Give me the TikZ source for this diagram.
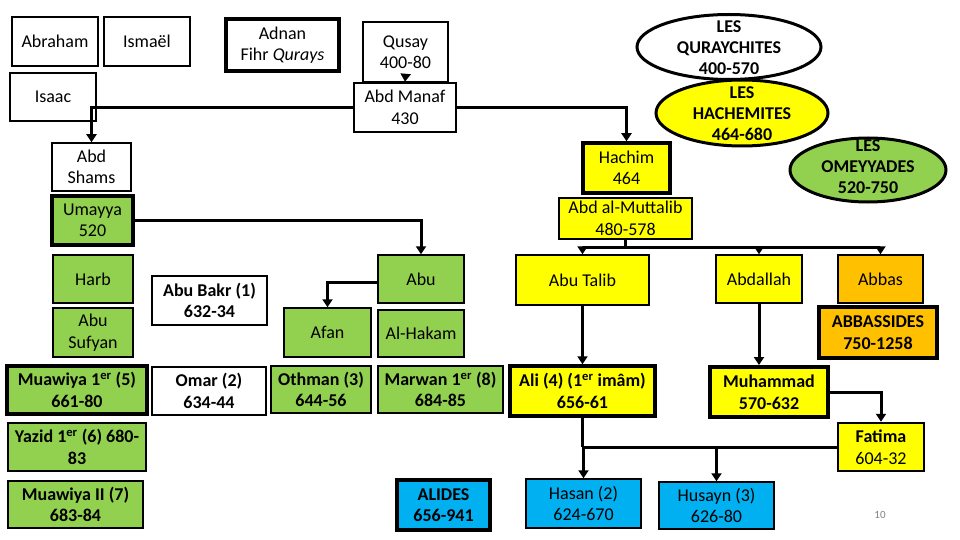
\documentclass[tikz,border=0pt]{standalone}
\usepackage{fontspec}
\setmainfont{Carlito}
\usetikzlibrary{shapes.geometric,arrows.meta}
\definecolor{cgreen}{HTML}{92D050}
\definecolor{cyellow}{HTML}{FFFF00}
\definecolor{corange}{HTML}{FFC000}
\definecolor{cblue}{HTML}{00B0F0}
\begin{document}
\begin{tikzpicture}[x=1pt,y=-1pt,
  box/.style={draw=black, rectangle, line width=1.5pt, inner sep=0pt, align=center,
              font=\fontsize{18}{21.5}\selectfont, fill=white},
  bbox/.style={box, font=\fontsize{18}{21.5}\selectfont\bfseries},
  med/.style={line width=2.5pt},
  thick4/.style={line width=4pt},
  sz/.style 2 args={minimum width=#1pt, minimum height=#2pt},
  ell/.style={draw=black, ellipse, line width=3pt, inner sep=0pt, align=center},
  elltext/.style={font=\fontsize{18}{21}\selectfont\bfseries, align=center},
  conn/.style={draw=black, line width=3pt},
  arr/.style={conn, -{Triangle[width=10pt,length=8pt]}}
]
\useasboundingbox (0,0) rectangle (960,540);

% ellipses
\node[ell, fill=cyellow, sz={172}{66}] (hach) at (742,113) {};
\node[ell, fill=white, sz={184}{65}] (qur) at (729,47) {};
\node[ell, fill=cgreen, sz={156}{64}] (omey) at (868,170) {};
\node[elltext] (qurt) at (729,48) {LES\\QURAYCHITES\\400-570};
\node[elltext] (hacht) at (742,114) {LES\\HACHEMITES\\464-680};
\node[elltext] (omeyt) at (868,167) {LES\\OMEYYADES\\520-750};

% top row
\node[box, sz={86}{49}] (abraham) at (55,41.5) {Abraham};
\node[box, sz={86}{49}] (ismael) at (147,41.5) {Ismaël};
\node[box, thick4, sz={113}{52}] (adnan) at (282.5,45) {Adnan\\Fihr \textit{Qurays}};
\node[box, sz={85}{60}] (qusay) at (405.5,52) {Qusay\\400-80};
\node[box, sz={86}{48}] (isaac) at (53,97) {Isaac};
\node[box, med, sz={102}{49}] (manaf) at (405,107.5) {Abd Manaf\\430};

% Umayyad side
\node[box, sz={79}{48}] (abdshams) at (91.5,167) {Abd\\Shams};
\node[box, thick4, fill=cgreen, sz={81}{49}] (umayya) at (92.5,220.5) {Umayya\\520};
\node[box, fill=cgreen, sz={80}{48}] (harb) at (93,279) {Harb};
\node[box, fill=cgreen, sz={80}{49}] (sufyan) at (93,332.5) {Abu\\Sufyan};
\node[bbox, thick4, fill=cgreen, sz={140}{48}] (muawiya) at (77,390) {Muawiya 1\textsuperscript{er} (5)\\661-80};
\node[bbox, med, fill=cgreen, sz={138}{48}] (yazid) at (77,447) {Yazid 1\textsuperscript{er} (6) 680-\\83};
\node[bbox, med, fill=cgreen, sz={135}{47}] (muawiya2) at (75.5,504.5) {Muawiya II (7)\\683-84};

\node[bbox, sz={115}{49}] (abubakr) at (209.5,300.5) {Abu Bakr (1)\\632-34};
\node[bbox, sz={114}{48}] (omar) at (209,391) {Omar (2)\\634-44};

\node[box, fill=cgreen, sz={86}{48}] (abu) at (421,279) {Abu};
\node[box, fill=cgreen, sz={87}{49}] (afan) at (327.5,332.5) {Afan};
\node[box, fill=cgreen, sz={86}{47}] (hakam) at (421,333.5) {Al-Hakam};
\node[bbox, fill=cgreen, sz={100}{47}] (othman) at (321,389.5) {Othman (3)\\644-56};
\node[bbox, fill=cgreen, sz={125}{47}] (marwan) at (440.5,389.5) {Marwan 1\textsuperscript{er} (8)\\684-85};
\node[bbox, thick4, fill=cblue, sz={93}{50}] (alides) at (443.5,505) {ALIDES\\656-941};

% Hashimite side
\node[box, line width=3.5pt, fill=cyellow, sz={87}{50}] (hachim) at (626.5,168) {Hachim\\464};
\node[box, med, fill=cyellow, sz={133}{41}] (muttalib) at (625.5,218.5) {Abd al-Muttalib\\480-578};
\node[box, fill=cyellow, sz={133}{50}] (abutalib) at (582.5,280) {Abu Talib};
\node[box, fill=cyellow, sz={86}{48}] (abdallah) at (759,279) {Abdallah};
\node[box, fill=corange, sz={85}{48}] (abbas) at (880.5,279) {Abbas};
\node[bbox, thick4, fill=corange, sz={118}{51}] (abbassides) at (878,332.5) {ABBASSIDES\\750-1258};
\node[bbox, line width=3.5pt, fill=cyellow, sz={145}{50}] (ali) at (582.5,391) {Ali (4) (1\textsuperscript{er} imâm)\\656-61};
\node[bbox, thick4, fill=cyellow, sz={118}{50}] (muhammad) at (769,392) {Muhammad\\570-632};
\node[box, med, fill=cyellow, sz={86}{48}] (fatima) at (881,447) {\textbf{Fatima}\\604-32};
\node[box, fill=cblue, sz={115}{49}] (hasan) at (583.5,503.5) {Hasan (2)\\624-670};
\node[box, fill=cblue, sz={115}{47}] (husayn) at (716.5,505.5) {Husayn (3)\\626-80};

\node[text=gray, font=\fontsize{11}{13}\selectfont] (pnum) at (880,515) {10};

% connectors
\draw[arr] ([yshift=7pt]qusay.south) -- (manaf.north);
\draw[arr] (manaf.west) -| (abdshams.north);
\draw[arr] (manaf.east) -| (hachim.north);
\draw[arr] (umayya.east) -| (abu.north);
\draw[arr] ([yshift=-3pt]abu.west) -| (afan.north);

\coordinate (mj) at (625.5,247);
\draw[conn] (muttalib.south) -- (mj);
\draw[arr] (mj) -| (abutalib.north);
\draw[arr] (mj) -| (abdallah.north);
\draw[arr] (mj) -| (abbas.north);

\draw[arr] (abutalib.south) -- (ali.north);
\draw[arr] (abdallah.south) -- (abdallah.south |- muhammad.north);
\draw[arr] (muhammad.east) -| (fatima.north);

\coordinate (aj) at (ali.south |- fatima.west);
\draw[conn] (ali.south) -- (aj);
\draw[arr] (fatima.west) -| (hasan.north);
\draw[arr] (fatima.west -| husayn.north) -- (husayn.north);
\end{tikzpicture}
\end{document}
